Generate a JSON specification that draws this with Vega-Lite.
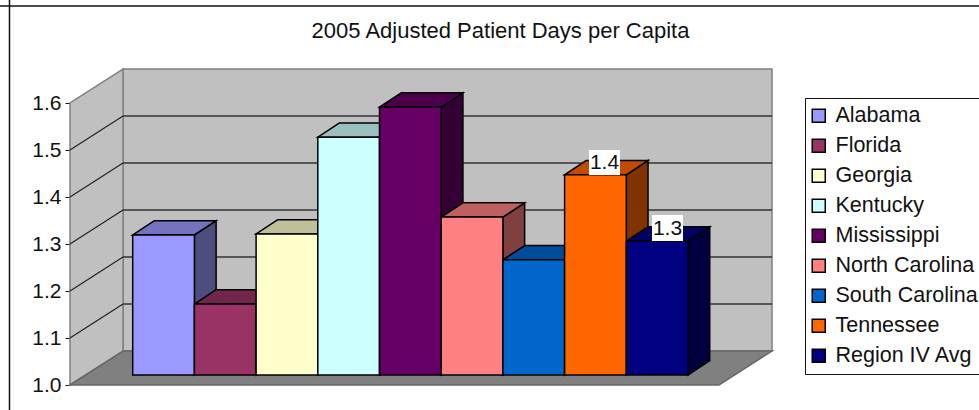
{
"$schema":"https://vega.github.io/schema/vega-lite/v6.json",
"width":979,"height":410,"padding":0,"autosize":{"type":"none"},
"background":"white",
"config":{"view":{"stroke":null},"font":"Liberation Sans"},
"title":{"text":"2005 Adjusted Patient Days per Capita","orient":"top","offset":-44,"anchor":"middle","frame":"group","dx":11,"fontSize":22,"fontWeight":"normal","font":"Liberation Sans","color":"#111111"},
"datasets":{
"bars":[
{"name":"Alabama","value":1.298,"start":0,"end":1},
{"name":"Florida","value":1.151,"start":1,"end":2},
{"name":"Georgia","value":1.30,"start":2,"end":3},
{"name":"Kentucky","value":1.506,"start":3,"end":4},
{"name":"Mississippi","value":1.57,"start":4,"end":5},
{"name":"North Carolina","value":1.336,"start":5,"end":6},
{"name":"South Carolina","value":1.245,"start":6,"end":7},
{"name":"Tennessee","value":1.426,"start":7,"end":8},
{"name":"Region IV Avg","value":1.285,"start":8,"end":9}
],
"solids":[
{"name":"Alabama","top":1.298,"base":1,"left":0,"right":1},{"name":"Alabama","top":1.3284,"base":1.0304,"left":0.352,"right":1.352},
{"name":"Florida","top":1.151,"base":1,"left":1,"right":2},{"name":"Florida","top":1.1814,"base":1.0304,"left":1.352,"right":2.352},
{"name":"Georgia","top":1.30,"base":1,"left":2,"right":3},{"name":"Georgia","top":1.3304,"base":1.0304,"left":2.352,"right":3.352},
{"name":"Kentucky","top":1.506,"base":1,"left":3,"right":4},{"name":"Kentucky","top":1.5364,"base":1.0304,"left":3.352,"right":4.352},
{"name":"Mississippi","top":1.57,"base":1,"left":4,"right":5},{"name":"Mississippi","top":1.6004,"base":1.0304,"left":4.352,"right":5.352},
{"name":"North Carolina","top":1.336,"base":1,"left":5,"right":6},{"name":"North Carolina","top":1.3664,"base":1.0304,"left":5.352,"right":6.352},
{"name":"South Carolina","top":1.245,"base":1,"left":6,"right":7},{"name":"South Carolina","top":1.2754,"base":1.0304,"left":6.352,"right":7.352},
{"name":"Tennessee","top":1.426,"base":1,"left":7,"right":8},{"name":"Tennessee","top":1.4564,"base":1.0304,"left":7.352,"right":8.352},
{"name":"Region IV Avg","top":1.285,"base":1,"left":8,"right":9},{"name":"Region IV Avg","top":1.3154,"base":1.0304,"left":8.352,"right":9.352}
],
"labels":[
{"name":"Tennessee","value":1.426,"center":7.647,"boxLeft":7.395,"boxRight":7.898,"boxTop":1.4787,"boxBottom":1.4255},
{"name":"Region IV Avg","value":1.285,"center":8.668,"boxLeft":8.416,"boxRight":8.919,"boxTop":1.3404,"boxBottom":1.2851}
],
"leftWall":[{"x":-1.0162,"y":1.0,"y2":1.6},{"x":-0.1572,"y":1.0723,"y2":1.6723}],
"floor":[{"y":1.0,"x":-1.0162,"x2":9.5024},{"y":1.0723,"x":-0.1572,"x2":10.3614}],
"backWall":[{"x":-0.1572,"x2":10.3614,"y":1.0723,"y2":1.6723}],
"grid":[
{"tick":1.1,"x":-1.0162,"xb":-0.1572,"xe":10.3614,"y":1.1,"yb":1.1723},
{"tick":1.2,"x":-1.0162,"xb":-0.1572,"xe":10.3614,"y":1.2,"yb":1.2723},
{"tick":1.3,"x":-1.0162,"xb":-0.1572,"xe":10.3614,"y":1.3,"yb":1.3723},
{"tick":1.4,"x":-1.0162,"xb":-0.1572,"xe":10.3614,"y":1.4,"yb":1.4723},
{"tick":1.5,"x":-1.0162,"xb":-0.1572,"xe":10.3614,"y":1.5,"yb":1.5723}
],
"frame":[{"edge":-1.9968,"topEdge":1.8064}]
},
"encoding":{},
"resolve":{"scale":{"y":"independent"}},
"layer":[
{"layer":[
{"data":{"name":"backWall"},"mark":{"type":"rect","fill":"#C0C0C0","stroke":"#808080","strokeWidth":1.5},
"encoding":{"x":{"field":"x","type":"quantitative","scale":{"domain":[-2.1507,13.716],"nice":false,"zero":false},"axis":null},"x2":{"field":"x2"},"y":{"field":"y","type":"quantitative","scale":{"domain":[0.9468,1.8191],"nice":false,"zero":false},"axis":{"values":[1,1.1,1.2,1.3,1.4,1.5,1.6],"format":".1f","title":null,"offset":-70,"domain":false,"grid":false,"tickColor":"#111111","tickSize":5,"labelFontSize":21,"labelFont":"Liberation Sans","labelColor":"#111111","labelPadding":4,"labelOffset":1}},"y2":{"field":"y2"}}},
{"data":{"name":"leftWall"},"mark":{"type":"area","fill":"#C0C0C0","stroke":"#808080","strokeWidth":1.5},
"encoding":{"x":{"field":"x","type":"quantitative"},"y":{"field":"y","type":"quantitative","stack":null},"y2":{"field":"y2"}}},
{"data":{"name":"floor"},"mark":{"type":"area","orient":"horizontal","fill":"#808080","stroke":"#666666","strokeWidth":1.5},
"encoding":{"y":{"field":"y","type":"quantitative"},"x":{"field":"x","type":"quantitative","stack":null},"x2":{"field":"x2"}}},
{"data":{"name":"grid"},"mark":{"type":"rule","stroke":"#222222","strokeWidth":1.2},
"encoding":{"x":{"field":"x","type":"quantitative"},"x2":{"field":"xb"},"y":{"field":"y","type":"quantitative"},"y2":{"field":"yb"}}},
{"data":{"name":"grid"},"mark":{"type":"rule","stroke":"#333333","strokeWidth":1.3},
"encoding":{"x":{"field":"xb","type":"quantitative"},"x2":{"field":"xe"},"y":{"field":"yb","type":"quantitative"}}},
{"data":{"name":"frame"},"mark":{"type":"rule","stroke":"#111111","strokeWidth":1.5},
"encoding":{"x":{"field":"edge","type":"quantitative"}}},
{"data":{"name":"frame"},"mark":{"type":"rule","stroke":"#111111","strokeWidth":1.5},
"encoding":{"y":{"field":"topEdge","type":"quantitative"}}}
]},
{"layer":[
{"data":{"name":"solids"},"mark":{"type":"area","fill":"black"},
"encoding":{"detail":{"field":"name"},"x":{"field":"right","type":"quantitative"},"y":{"field":"top","type":"quantitative","stack":null,"scale":{"domain":[0.9255,1.7979],"nice":false,"zero":false},"axis":null},"y2":{"field":"base"}}},
{"data":{"name":"solids"},"mark":{"type":"area","fillOpacity":0.5,"stroke":"black","strokeWidth":1.5},
"encoding":{"color":{"field":"name","type":"nominal","sort":null,"scale":{"domain":["Alabama","Florida","Georgia","Kentucky","Mississippi","North Carolina","South Carolina","Tennessee","Region IV Avg"],"range":["#9999FF","#993366","#FFFFCC","#CCFFFF","#660066","#FF8080","#0066CC","#FF6600","#000080"]},
"legend":{"title":null,"orient":"none","legendX":805,"legendY":98,"fillColor":"white","strokeColor":"#111111","padding":7,"symbolType":"square","symbolSize":170,"symbolOffset":-4,"symbolOpacity":1,"symbolStrokeColor":"#111111","symbolStrokeWidth":1.5,"labelFontSize":21.5,"labelFont":"Liberation Sans","labelColor":"#111111","labelOffset":6,"rowPadding":7,"labelLimit":300}},"x":{"field":"right","type":"quantitative"},"y":{"field":"top","type":"quantitative","stack":null},"y2":{"field":"base"}}},
{"data":{"name":"solids"},"mark":{"type":"area","orient":"horizontal","fill":"black"},
"encoding":{"detail":{"field":"name"},"y":{"field":"top","type":"quantitative"},"x":{"field":"left","type":"quantitative","stack":null},"x2":{"field":"right"}}},
{"data":{"name":"solids"},"mark":{"type":"area","orient":"horizontal","fillOpacity":0.75,"stroke":"black","strokeWidth":1.5},
"encoding":{"color":{"field":"name","type":"nominal"},"y":{"field":"top","type":"quantitative"},"x":{"field":"left","type":"quantitative","stack":null},"x2":{"field":"right"}}},
{"data":{"name":"bars"},"mark":{"type":"rect","stroke":"black","strokeWidth":1.5},
"encoding":{"x":{"field":"start","type":"quantitative"},"x2":{"field":"end"},"y":{"field":"value","type":"quantitative"},"y2":{"datum":1},
"color":{"field":"name","type":"nominal"}}},
{"data":{"name":"labels"},"mark":{"type":"rect","fill":"white"},
"encoding":{"x":{"field":"boxLeft","type":"quantitative"},"x2":{"field":"boxRight"},"y":{"field":"boxTop","type":"quantitative"},"y2":{"field":"boxBottom"}}},
{"data":{"name":"labels"},"mark":{"type":"text","fontSize":21,"font":"Liberation Sans","color":"#111111","baseline":"alphabetic","dy":-6},
"encoding":{"x":{"field":"center","type":"quantitative"},"y":{"field":"value","type":"quantitative"},"text":{"field":"value","type":"quantitative","format":".1f"}}}
]}
]
}
